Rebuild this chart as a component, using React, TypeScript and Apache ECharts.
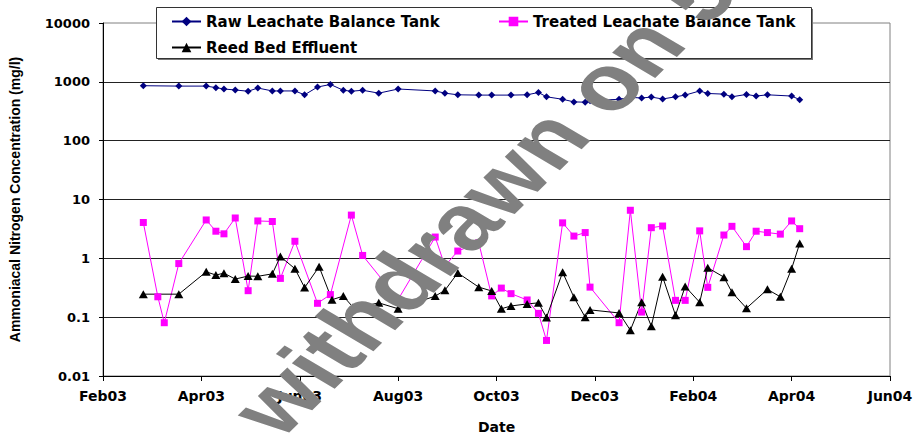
import React, { useEffect, useRef } from "react";
import * as echarts from "echarts";

const X_TICK_LABELS = ["Feb03", "Apr03", "Jun03", "Aug03", "Oct03", "Dec03", "Feb04", "Apr04", "Jun04"];

const RAW_DATES = [
  "2003-02-26", "2003-03-20", "2003-04-06", "2003-04-12", "2003-04-17", "2003-04-24", "2003-05-02", "2003-05-08",
  "2003-05-17", "2003-05-22", "2003-05-31", "2003-06-06", "2003-06-14", "2003-06-22", "2003-06-30", "2003-07-05",
  "2003-07-12", "2003-07-22", "2003-08-03", "2003-08-26", "2003-09-01", "2003-09-09", "2003-09-22", "2003-09-30",
  "2003-10-12", "2003-10-22", "2003-10-29", "2003-11-03", "2003-11-13", "2003-11-20", "2003-11-27", "2003-11-30",
  "2003-12-18", "2003-12-25", "2004-01-01", "2004-01-07", "2004-01-14", "2004-01-22", "2004-01-28", "2004-02-06",
  "2004-02-11", "2004-02-21", "2004-02-26", "2004-03-06", "2004-03-12", "2004-03-19", "2004-04-03", "2004-04-08",
];
const RAW_VALUES = [
  859, 846, 846, 797, 755, 727, 692, 785,
  700, 700, 700, 602, 815, 903, 719, 692,
  719, 642, 755, 700, 642, 602, 595, 595,
  595, 602, 659, 557, 505, 456, 451, 479,
  505, 545, 531, 551, 511, 557, 595, 700,
  634, 618, 557, 611, 573, 602, 573, 498,
];

const TREATED_DATES = [
  "2003-02-26", "2003-03-07", "2003-03-11", "2003-03-20", "2003-04-06", "2003-04-12", "2003-04-17", "2003-04-24",
  "2003-05-02", "2003-05-08", "2003-05-17", "2003-05-22", "2003-05-31", "2003-06-14", "2003-06-22", "2003-07-05",
  "2003-07-12", "2003-08-03", "2003-08-26", "2003-09-01", "2003-09-09", "2003-09-22", "2003-09-30", "2003-10-06",
  "2003-10-12", "2003-10-22", "2003-10-29", "2003-11-03", "2003-11-13", "2003-11-20", "2003-11-27", "2003-11-30",
  "2003-12-18", "2003-12-25", "2004-01-01", "2004-01-07", "2004-01-14", "2004-01-22", "2004-01-28", "2004-02-06",
  "2004-02-11", "2004-02-21", "2004-02-26", "2004-03-06", "2004-03-12", "2004-03-19", "2004-03-27", "2004-04-03",
  "2004-04-08",
];
const TREATED_VALUES = [
  4.07, 0.222, 0.0805, 0.815, 4.49, 2.89, 2.61, 4.85,
  0.282, 4.32, 4.23, 0.456, 1.95, 0.172, 0.242, 5.43,
  1.12, 0.2, 2.3, 0.738, 1.33, 1.84, 0.23, 0.312,
  0.251, 0.196, 0.116, 0.0402, 4.01, 2.39, 2.74, 0.324,
  0.0805, 6.56, 0.122, 3.32, 3.54, 0.193, 0.193, 2.93,
  0.321, 2.49, 3.5, 1.58, 2.89, 2.74, 2.58, 4.32,
  3.19,
];

const REED_DATES = [
  "2003-02-26", "2003-03-20", "2003-04-06", "2003-04-12", "2003-04-17", "2003-04-24", "2003-05-02", "2003-05-08",
  "2003-05-17", "2003-05-22", "2003-05-31", "2003-06-06", "2003-06-15", "2003-06-23", "2003-06-30", "2003-07-06",
  "2003-07-10", "2003-07-22", "2003-08-03", "2003-08-26", "2003-09-01", "2003-09-09", "2003-09-22", "2003-09-30",
  "2003-10-06", "2003-10-12", "2003-10-22", "2003-10-29", "2003-11-03", "2003-11-13", "2003-11-20", "2003-11-27",
  "2003-11-30", "2003-12-18", "2003-12-25", "2004-01-01", "2004-01-07", "2004-01-14", "2004-01-22", "2004-01-28",
  "2004-02-06", "2004-02-11", "2004-02-21", "2004-02-26", "2004-03-06", "2004-03-19", "2004-03-27", "2004-04-03",
  "2004-04-08",
];
const REED_VALUES = [
  0.246, 0.246, 0.59, 0.52, 0.56, 0.444, 0.5, 0.495,
  0.545, 1.07, 0.667, 0.318, 0.72, 0.198, 0.228, 0.148,
  0.148, 0.175, 0.139, 0.228, 0.286, 0.565, 0.324, 0.279,
  0.139, 0.155, 0.168, 0.175, 0.099, 0.58, 0.218, 0.1,
  0.133, 0.118, 0.06, 0.18, 0.07, 0.487, 0.108, 0.333,
  0.179, 0.692, 0.479, 0.265, 0.142, 0.297, 0.222, 0.667,
  1.79,
];

const ORIGIN = Date.UTC(2003, 1, 1);
const DAY = 86400000;
const dayOf = (s: string) => {
  const [y, m, d] = s.split("-").map(Number);
  return (Date.UTC(y, m - 1, d) - ORIGIN) / DAY;
};
const TICK_STEP = 61;

const RAW_NAME = "Raw Leachate Balance Tank";
const TREATED_NAME = "Treated Leachate Balance Tank";
const REED_NAME = "Reed Bed Effluent";

export default function App() {
  const ref = useRef<HTMLDivElement>(null);
  useEffect(() => {
    if (!ref.current) return;
    const chart = echarts.init(ref.current, undefined, { renderer: "svg" });
    const axisFont = "DejaVu Sans";
    const legendText = { fontFamily: axisFont, fontWeight: "bold" as const, fontSize: 15, color: "#000" };
    chart.setOption({
      animation: false,
      backgroundColor: "#fff",
      grid: { left: 100, width: 790, top: 23, height: 364, show: true, borderColor: "#808080", borderWidth: 1 },
      legend: [
        { data: [RAW_NAME], left: 171, top: 14, itemWidth: 29, itemHeight: 12, selectedMode: false, textStyle: legendText, padding: 0 },
        { data: [TREATED_NAME], left: 498, top: 14, itemWidth: 29, itemHeight: 12, selectedMode: false, textStyle: legendText, padding: 0 },
        { data: [REED_NAME], left: 171, top: 40, itemWidth: 29, itemHeight: 12, selectedMode: false, textStyle: legendText, padding: 0 },
      ],
      xAxis: {
        type: "value",
        min: 0,
        max: TICK_STEP * (X_TICK_LABELS.length - 1),
        interval: TICK_STEP,
        name: "Date",
        nameLocation: "middle",
        nameGap: 44,
        nameTextStyle: { fontFamily: axisFont, fontWeight: "bold", fontSize: 14, color: "#000" },
        axisLine: { lineStyle: { color: "#000", width: 1 } },
        axisTick: { length: 5, lineStyle: { color: "#000" } },
        splitLine: { show: false },
        axisLabel: {
          margin: 13,
          fontFamily: axisFont,
          fontWeight: "bold",
          fontSize: 14,
          color: "#000",
          formatter: (v: number) => X_TICK_LABELS[Math.round(v / TICK_STEP)] ?? "",
        },
      },
      yAxis: {
        type: "log",
        logBase: 10,
        min: 0.01,
        max: 10000,
        name: "Ammoniacal Nitrogen Concentration (mg/l)",
        nameLocation: "middle",
        nameGap: 81,
        nameTextStyle: { fontFamily: "Liberation Sans", fontWeight: "bold", fontSize: 14, color: "#000" },
        axisLine: { show: true, lineStyle: { color: "#000", width: 1 } },
        axisTick: { show: true, length: 4, lineStyle: { color: "#000" } },
        splitLine: { show: true, showMaxLine: false, lineStyle: { color: "#222", width: 1 } },
        axisLabel: {
          margin: 13,
          fontFamily: axisFont,
          fontWeight: "bold",
          fontSize: 13,
          color: "#000",
          formatter: (v: number) => String(Number(v.toPrecision(2))),
        },
      },
      graphic: [
        { type: "rect", z: 3, shape: { x: 158, y: 9, width: 655, height: 51 }, style: { fill: "#777" } },
        { type: "rect", z: 3, shape: { x: 156.5, y: 7.5, width: 655, height: 51 }, style: { fill: "#fff", stroke: "#333", lineWidth: 1 } },
        {
          type: "group",
          x: 293,
          y: 448,
          scaleX: 1.32,
          z: 20,
          children: [
            {
              type: "text",
              rotation: (52 * Math.PI) / 180,
              z: 20,
              style: {
                text: "withdrawn on 5",
                font: 'bold 78px "Liberation Sans"',
                fill: "#808080",
                align: "left",
                verticalAlign: "bottom",
              },
            },
          ],
        },
      ],
      series: [
        {
          name: RAW_NAME,
          type: "line",
          data: RAW_DATES.map((d, i) => [dayOf(d), RAW_VALUES[i]]),
          symbol: "diamond",
          symbolSize: 7,
          lineStyle: { color: "#000080", width: 1 },
          itemStyle: { color: "#000080" },
        },
        {
          name: TREATED_NAME,
          type: "line",
          data: TREATED_DATES.map((d, i) => [dayOf(d), TREATED_VALUES[i]]),
          symbol: "rect",
          symbolSize: 7,
          lineStyle: { color: "#FF00FF", width: 1 },
          itemStyle: { color: "#FF00FF" },
        },
        {
          name: REED_NAME,
          type: "line",
          data: REED_DATES.map((d, i) => [dayOf(d), REED_VALUES[i]]),
          symbol: "triangle",
          symbolSize: [9, 8],
          lineStyle: { color: "#000", width: 1 },
          itemStyle: { color: "#000" },
        },
      ],
    });
    return () => chart.dispose();
  }, []);
  return <div ref={ref} style={{ position: "fixed", left: 0, top: 0, width: 922, height: 439 }} />;
}
